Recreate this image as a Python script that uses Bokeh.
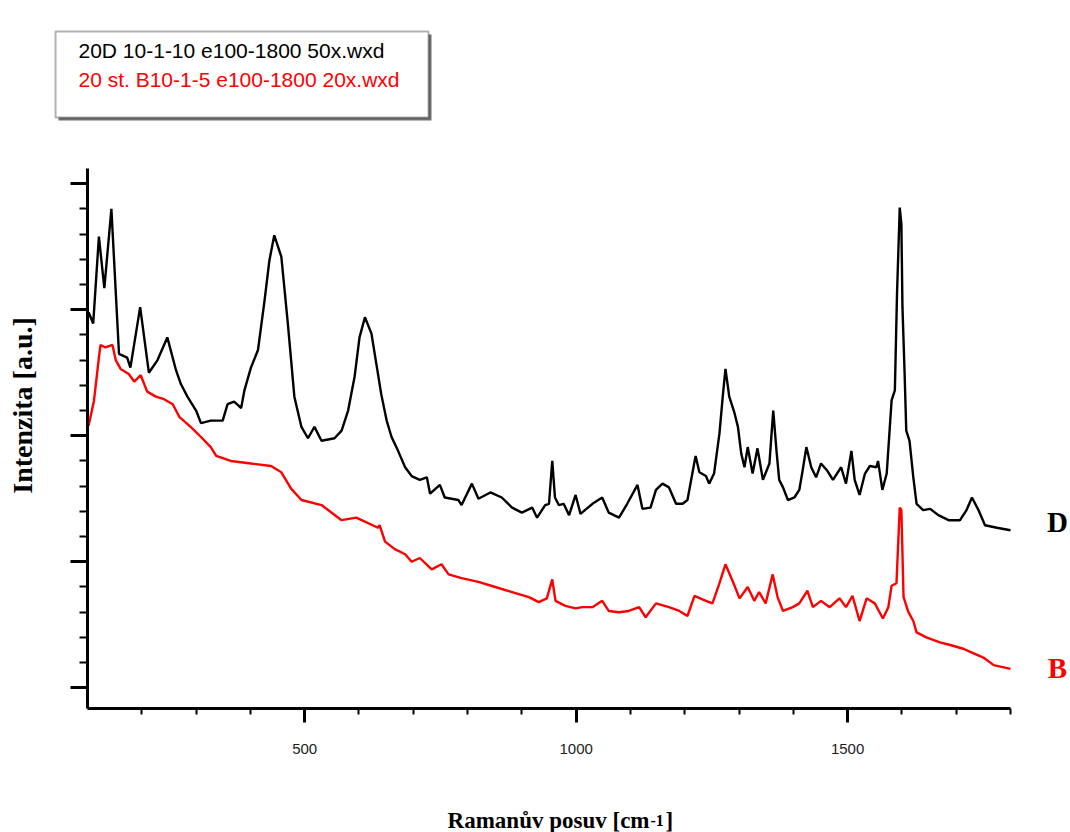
from bokeh.plotting import figure
from bokeh.models import FixedTicker, Label, BoxAnnotation, Range1d, CustomJSTickFormatter, LinearAxis
from bokeh.embed import file_html
from bokeh.resources import INLINE

# Raman shift [cm-1] and intensity [a.u.]
D_x = [102, 110.5, 121, 131, 144, 158, 173, 179, 197, 213, 229, 247, 263, 272, 284, 300, 309, 327, 349, 358,
       370, 383, 389, 401, 414, 426, 435, 444, 457, 469, 481, 494, 506, 518, 531, 555, 568, 580, 592, 601,
       611, 623, 632, 641, 651, 660, 672, 685, 697, 712, 725, 731, 749, 758, 783, 789, 808, 820, 842, 863,
       882, 900, 919, 928, 943, 950, 956, 961, 968, 977, 987, 999, 1008, 1030, 1048, 1060, 1079, 1094, 1113, 1122,
       1137, 1147, 1159, 1171, 1184, 1196, 1205, 1214, 1220, 1227, 1239, 1245, 1254, 1264, 1270, 1275, 1282, 1291, 1298, 1304,
       1310, 1316, 1325, 1334, 1344, 1356, 1363, 1369, 1374, 1381, 1390, 1402, 1411, 1417, 1424, 1433, 1442, 1451, 1463, 1473,
       1488, 1497, 1507, 1513, 1522, 1532, 1541, 1553, 1556, 1564, 1572, 1581, 1587, 1591, 1596, 1599, 1601, 1605, 1608, 1614,
       1621, 1627, 1639, 1652, 1667, 1686, 1707, 1719, 1729, 1741, 1753, 1775, 1800]
D_y = [2.98, 2.89, 3.58, 3.17, 3.80, 2.65, 2.62, 2.54, 3.02, 2.50, 2.60, 2.78, 2.52, 2.41, 2.31, 2.20, 2.10, 2.12, 2.12, 2.25,
       2.27, 2.22, 2.36, 2.54, 2.68, 3.07, 3.39, 3.59, 3.42, 2.89, 2.31, 2.07, 1.98, 2.07, 1.96, 1.98, 2.04, 2.20, 2.47, 2.78,
       2.94, 2.81, 2.57, 2.33, 2.12, 1.99, 1.88, 1.75, 1.68, 1.65, 1.67, 1.54, 1.61, 1.51, 1.49, 1.45, 1.62, 1.50, 1.55, 1.51,
       1.43, 1.39, 1.43, 1.35, 1.45, 1.46, 1.80, 1.51, 1.45, 1.46, 1.37, 1.53, 1.38, 1.46, 1.51, 1.39, 1.35, 1.46, 1.61, 1.42,
       1.43, 1.57, 1.62, 1.59, 1.46, 1.46, 1.49, 1.70, 1.84, 1.71, 1.68, 1.62, 1.70, 2.02, 2.31, 2.53, 2.31, 2.19, 2.07, 1.86,
       1.75, 1.91, 1.70, 1.90, 1.65, 1.78, 2.20, 1.88, 1.65, 1.59, 1.49, 1.51, 1.57, 1.72, 1.91, 1.75, 1.67, 1.78, 1.72, 1.65,
       1.75, 1.62, 1.88, 1.65, 1.53, 1.70, 1.76, 1.75, 1.80, 1.57, 1.70, 2.28, 2.36, 3.13, 3.81, 3.68, 3.02, 2.49, 2.04, 1.96,
       1.67, 1.46, 1.41, 1.42, 1.37, 1.33, 1.33, 1.41, 1.51, 1.41, 1.29, 1.27, 1.25]

B_x = [102, 112, 121, 124, 133, 146, 152, 161, 176, 186, 198, 210, 226, 241, 257, 269, 290, 309, 327, 337,
       364, 401, 438, 457, 475, 494, 531, 568, 595, 605, 635, 638, 648, 666, 685, 697, 712, 734, 752, 765,
       789, 820, 851, 882, 913, 931, 946, 956, 962, 980, 999, 1011, 1030, 1048, 1060, 1079, 1097, 1116, 1128, 1147,
       1171, 1190, 1205, 1218, 1239, 1251, 1264, 1275, 1288, 1301, 1316, 1328, 1337, 1349, 1362, 1371, 1381, 1399, 1411, 1426,
       1436, 1451, 1467, 1485, 1497, 1509, 1522, 1535, 1550, 1565, 1575, 1581, 1590, 1596, 1599, 1603, 1612, 1621, 1627, 1645,
       1670, 1689, 1713, 1729, 1750, 1769, 1800]
B_y = [2.08, 2.28, 2.62, 2.72, 2.70, 2.72, 2.60, 2.53, 2.49, 2.43, 2.48, 2.35, 2.31, 2.29, 2.25, 2.15, 2.07, 1.99, 1.91, 1.84,
       1.80, 1.78, 1.76, 1.71, 1.58, 1.49, 1.45, 1.33, 1.35, 1.33, 1.27, 1.29, 1.16, 1.10, 1.06, 1.00, 1.03, 0.94, 0.98, 0.90,
       0.87, 0.84, 0.80, 0.76, 0.72, 0.68, 0.71, 0.86, 0.69, 0.65, 0.63, 0.64, 0.64, 0.69, 0.61, 0.60, 0.61, 0.64, 0.56, 0.67,
       0.64, 0.61, 0.57, 0.73, 0.69, 0.67, 0.83, 0.98, 0.85, 0.71, 0.80, 0.69, 0.76, 0.67, 0.90, 0.72, 0.61, 0.64, 0.67, 0.77,
       0.64, 0.69, 0.64, 0.71, 0.64, 0.73, 0.53, 0.71, 0.67, 0.55, 0.64, 0.81, 0.83, 1.43, 1.41, 0.72, 0.60, 0.53, 0.44, 0.40,
       0.36, 0.34, 0.31, 0.28, 0.24, 0.18, 0.15]

x_major_ticks = [500, 1000, 1500]
x_minor_ticks = [200, 300, 400, 500, 600, 700, 800, 900, 1000, 1100, 1200, 1300, 1400, 1500, 1600, 1700, 1800]
y_major_ticks = [0, 1, 2, 3, 4]
y_minor_ticks = [0.2, 0.4, 0.6, 0.8, 1.2, 1.4, 1.6, 1.8, 2.2, 2.4, 2.6, 2.8, 3.2, 3.4, 3.6, 3.8]
x_axis_span = (100, 1800)
y_axis_span = (-0.164, 4.12)

legend_D = "20D 10-1-10 e100-1800 50x.wxd"
legend_B = "20 st. B10-1-5 e100-1800 20x.wxd"

# the frame covers the whole canvas; the axes sit at fixed data locations
p = figure(width=1070, height=832, output_backend="svg", toolbar_location=None,
           x_range=Range1d(-60.24, 1910.5), y_range=Range1d(-1.1477, 5.4528),
           x_axis_location=None, y_axis_location=None,
           min_border_left=0, min_border_right=0, min_border_top=0, min_border_bottom=0)
p.title.visible = False
p.outline_line_color = None
p.xgrid.visible = False
p.ygrid.visible = False
p.background_fill_color = "white"
p.border_fill_color = "white"

p.line(D_x, D_y, color="black", line_width=2.4)
p.line(B_x, B_y, color="#ff0000", line_width=2.4)

xa = LinearAxis(fixed_location=y_axis_span[0], bounds=x_axis_span,
                ticker=FixedTicker(ticks=x_major_ticks, minor_ticks=x_minor_ticks))
xa.axis_line_width = 3
xa.major_tick_line_width = 3
xa.minor_tick_line_width = 2
xa.major_tick_out = 14
xa.major_tick_in = 0
xa.minor_tick_out = 6
xa.minor_tick_in = 0
xa.major_label_standoff = 21
xa.major_label_text_font = "Liberation Sans"
xa.major_label_text_font_size = "15px"
xa.major_label_text_color = "#222222"
p.add_layout(xa, "below")

ya = LinearAxis(fixed_location=x_axis_span[0], bounds=y_axis_span,
                ticker=FixedTicker(ticks=y_major_ticks, minor_ticks=y_minor_ticks),
                formatter=CustomJSTickFormatter(code="return ''"))
ya.axis_line_width = 3
ya.major_tick_line_width = 3
ya.minor_tick_line_width = 2
ya.major_tick_out = 17
ya.major_tick_in = 0
ya.minor_tick_out = 8
ya.minor_tick_in = 0
p.add_layout(ya, "left")

# legend box with shadow
p.add_layout(BoxAnnotation(left=46.6, right=733.6, top=5.183, bottom=4.500,
                           fill_color="#707070", fill_alpha=1.0, line_color=None))
p.add_layout(BoxAnnotation(left=41.1, right=728.1, top=5.207, bottom=4.524,
                           fill_color="white", fill_alpha=1.0, line_color="black", line_width=2))
p.add_layout(Label(x=83.4, y=5.055, text=legend_D, text_font="Liberation Sans", text_font_size="21px",
                   text_color="black", text_baseline="alphabetic", text_align="left"))
p.add_layout(Label(x=83.4, y=4.825, text=legend_B, text_font="Liberation Sans", text_font_size="21px",
                   text_color="#ff0000", text_baseline="alphabetic", text_align="left"))

# axis titles
p.add_layout(Label(x=-19.7, y=2.24, text="Intenzita [a.u.]", angle=90, angle_units="deg",
                   text_font="Liberation Serif", text_font_style="bold", text_font_size="28px",
                   text_align="center", text_baseline="middle", text_color="black"))
p.add_layout(Label(x=1135.1, y=-1.053, text="Ramanův posuv [cm", text_font="Liberation Serif",
                   text_font_style="bold", text_font_size="23px", text_align="right",
                   text_baseline="alphabetic", text_color="black"))
p.add_layout(Label(x=1137.0, y=-1.053, text="-1", text_font="Liberation Serif",
                   text_font_style="bold", text_font_size="16px", text_align="left",
                   text_baseline="alphabetic", text_color="black"))
p.add_layout(Label(x=1164.6, y=-1.053, text="]", text_font="Liberation Serif",
                   text_font_style="bold", text_font_size="23px", text_align="left",
                   text_baseline="alphabetic", text_color="black"))

# series tags
p.add_layout(Label(x=1886.6, y=1.319, text="D", text_font="Liberation Serif", text_font_style="bold",
                   text_font_size="29px", text_align="center", text_baseline="alphabetic", text_color="black"))
p.add_layout(Label(x=1886.6, y=0.161, text="B", text_font="Liberation Serif", text_font_style="bold",
                   text_font_size="29px", text_align="center", text_baseline="alphabetic", text_color="#ff0000"))

open("out.html", "w").write(file_html(p, INLINE))
